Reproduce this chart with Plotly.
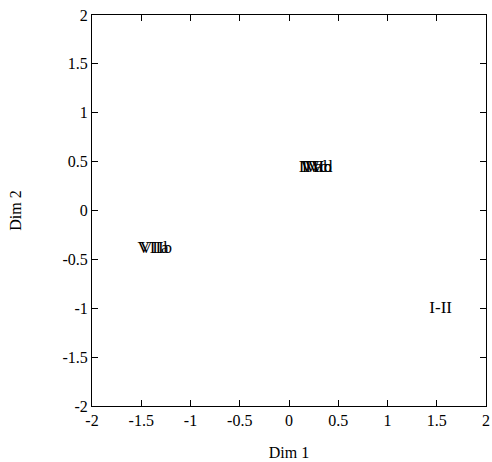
import plotly.graph_objects as go

labels = ["I-II", "IVa", "IVb", "IVc", "VIId", "VIIa", "VIIb"]
dim1 = [1.54, 0.22, 0.30, 0.26, 0.28, -1.38, -1.35]
dim2 = [-1.00, 0.44, 0.44, 0.44, 0.44, -0.39, -0.39]

xticks = [-2, -1.5, -1, -0.5, 0, 0.5, 1, 1.5, 2]
yticks = [-2, -1.5, -1, -0.5, 0, 0.5, 1, 1.5, 2]

font_family = "Palatino Linotype, Book Antiqua, Liberation Serif, DejaVu Serif, serif"

fig = go.Figure()
fig.add_trace(go.Scatter(
    x=dim1, y=dim2, mode="text", text=labels,
    textposition="middle center",
    textfont=dict(family=font_family, size=17, color="black"),
    showlegend=False, hoverinfo="skip", cliponaxis=False,
))

axis_common = dict(
    range=[-2, 2], showgrid=False, zeroline=False, automargin=False,
    showline=True, linecolor="black", linewidth=1, mirror="ticks",
    ticks="inside", ticklen=6, tickcolor="black", tickwidth=1,
    tickfont=dict(family=font_family, size=16, color="black"),
)
fig.update_xaxes(**axis_common, tickvals=xticks, ticktext=[("%g" % v) for v in xticks],
                 title=dict(text="Dim 1", font=dict(family=font_family, size=16, color="black"), standoff=18))
fig.update_yaxes(**axis_common, tickvals=yticks, ticktext=[("%g" % v) for v in yticks],
                 title=dict(text="Dim 2", font=dict(family=font_family, size=16, color="black"), standoff=36))

fig.update_layout(
    width=492, height=462,
    margin=dict(l=92, r=6, t=15, b=56),
    paper_bgcolor="white", plot_bgcolor="white",
)
fig.write_html(
    "out.html",
    config={"displayModeBar": False},
    post_script="document.body.style.margin='0';document.body.style.overflow='hidden';",
)
